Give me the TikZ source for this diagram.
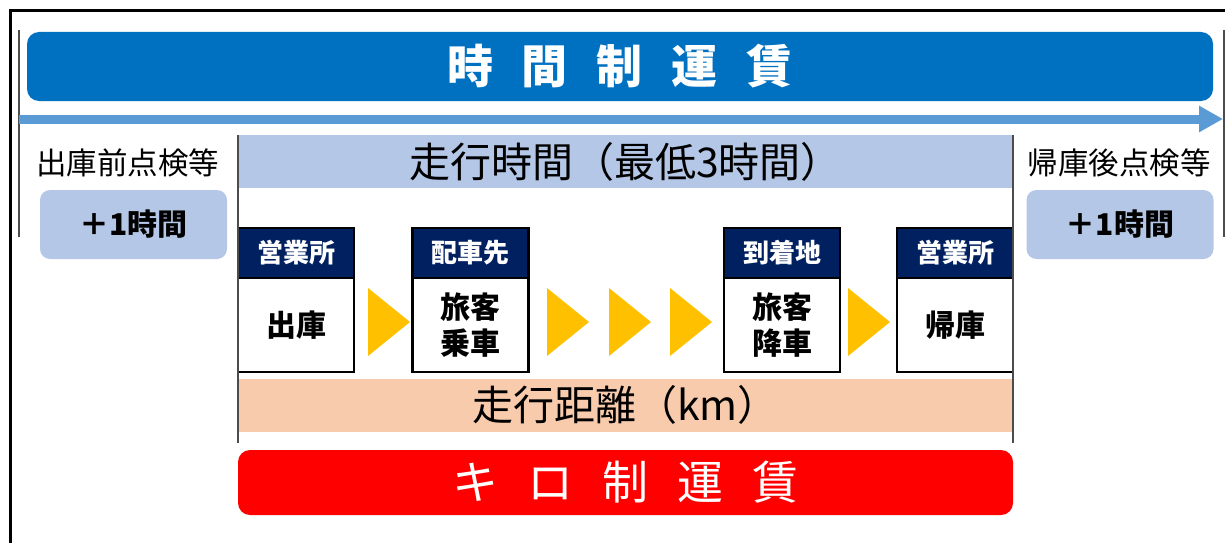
\documentclass[tikz,border=0pt]{standalone}
\usepackage{fontspec}
\setmainfont{Noto Sans CJK JP}
\usetikzlibrary{positioning,arrows.meta}

\definecolor{titleblue}{HTML}{0070C0}
\definecolor{arrowblue}{HTML}{5B9BD5}
\definecolor{lightblue}{HTML}{B4C7E7}
\definecolor{hdrnavy}{HTML}{002060}
\definecolor{triyellow}{HTML}{FFC000}
\definecolor{peach}{HTML}{F8CBAD}
\definecolor{farered}{HTML}{FF0000}

\newcommand{\tgap}{\hspace{29pt}}

\begin{document}
\begin{tikzpicture}[x=1pt,y=-1pt,
    hdr/.style={draw=black,line width=2.5pt,fill=hdrnavy,text=white,
      minimum width=116pt,minimum height=50pt,inner sep=0pt,outer sep=0pt,
      font=\bfseries\fontsize{26}{28}\selectfont},
    body/.style={draw=black,line width=2.5pt,fill=white,align=center,
      minimum width=116pt,minimum height=94pt,inner sep=0pt,outer sep=0pt,
      font=\bfseries\fontsize{30}{36}\selectfont},
    band/.style={minimum width=775pt,minimum height=53pt,inner sep=0pt,
      font=\fontsize{41}{41}\selectfont},
    fare/.style={rounded corners=12pt,text=white,inner sep=0pt,
      font=\fontsize{46}{46}\selectfont},
    extra/.style={rounded corners=10pt,fill=lightblue,minimum width=187pt,
      minimum height=69pt,inner sep=0pt,font=\bfseries\fontsize{30}{30}\selectfont},
    note/.style={inner sep=0pt,font=\fontsize{30.5}{30.5}\selectfont},
    tri/.style={fill=triyellow},
    rule/.style={draw=black!70,line width=1.3pt}]
  \useasboundingbox (0,0) rectangle (1225,543);

  % frame
  \draw[line width=3pt] (10,543) -- (10,11) -- (1225,11);
  \draw[rule] (19,30) -- (19,237);
  \draw[rule] (1224,30) -- (1224,237);

  % time based fare
  \node[fare,fill=titleblue,minimum width=1186pt,minimum height=69pt,
    font=\bfseries\fontsize{46}{46}\selectfont] (jikan) at (620,66.5)
    {時\tgap 間\tgap 制\tgap 運\tgap 賃};
  \coordinate (astart) at (19,119);
  \coordinate (aend) at (1223,119);
  \draw[line width=9pt,arrowblue,-{Triangle[length=24pt,width=25pt]}] (astart) -- (aend);

  \node[note] (pre) at (127.5,162.5) {出庫前点検等};
  \node[extra] (preh) at (133.5,224.5) {＋1時間};
  \node[note] (post) at (1119,162.5) {帰庫後点検等};
  \node[extra] (posth) at (1120,224.5) {＋1時間};

  \node[band,fill=lightblue] (runtime) at (625.5,161.5) {走行時間（最低3時間）};
  \node[band,fill=peach] (dist) at (625.5,405) {走行距離（km）};

  % steps
  \node[hdr] (h1) at (296,253) {営業所};
  \node[body,below=0pt of h1] (b1) {出庫};
  \node[hdr] (h2) at (470.5,253) {配車先};
  \node[body,below=0pt of h2] (b2) {旅客\\乗車};
  \node[hdr] (h3) at (782,253) {到着地};
  \node[body,below=0pt of h3] (b3) {旅客\\降車};
  \node[hdr] (h4) at (955,253) {営業所};
  \node[body,below=0pt of h4] (b4) {帰庫};

  \foreach \x in {368,547,609,670,848}
    \fill[tri] (\x,288) -- ++(42,34) -- ++(-42,34) -- cycle;

  \draw[rule] (238,135) -- (238,443);
  \draw[rule] (1013,135) -- (1013,443);

  % distance based fare
  \node[fare,fill=farered,minimum width=775pt,minimum height=65pt] (kiro) at (625.5,482.5)
    {キ\tgap ロ\tgap 制\tgap 運\tgap 賃};
\end{tikzpicture}
\end{document}
